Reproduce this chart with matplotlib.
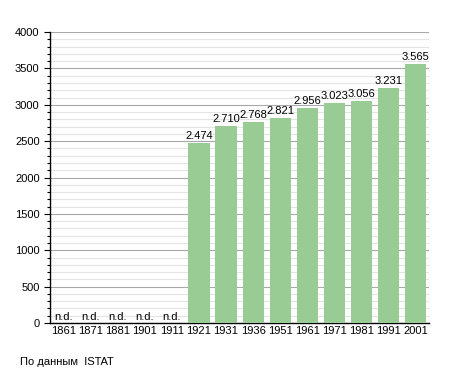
import numpy as np
import matplotlib
matplotlib.use("Agg")
import matplotlib.pyplot as plt
from matplotlib.ticker import MultipleLocator

plt.rcParams['font.family'] = ['Liberation Sans', 'DejaVu Sans']

years = ['1861', '1871', '1881', '1901', '1911', '1921', '1931', '1936',
         '1951', '1961', '1971', '1981', '1991', '2001']
population = [None, None, None, None, None, 2474, 2710, 2768,
              2821, 2956, 3023, 3056, 3231, 3565]
bar_color = '#99cc95'

fig = plt.figure(figsize=(4.55, 3.73), dpi=100)
ax = fig.add_axes([0.110, 0.134, 0.833, 0.780])

x = np.arange(len(years))
vals = [v if v is not None else 0 for v in population]
ax.bar(x, vals, width=0.78, color=bar_color, zorder=3)

# value labels, n.d. where there is no census figure
for xi, v in zip(x, population):
    if v is None:
        ax.text(xi, 15, 'n.d.', ha='center', va='bottom', fontsize=8, zorder=4)
    else:
        label = f"{v / 1000:.3f}"
        ax.text(xi, v + 25, label, ha='center', va='bottom', fontsize=8, zorder=4)

ax.set_xlim(-0.5, len(years) - 0.5)
ax.set_ylim(0, 4000)
ax.set_xticks(x)
ax.set_xticklabels(years, fontsize=8)
ax.yaxis.set_major_locator(MultipleLocator(500))
ax.yaxis.set_minor_locator(MultipleLocator(100))
ax.tick_params(axis='y', labelsize=8, length=4, width=0.8, direction='out')
ax.tick_params(axis='y', which='minor', length=2.5, width=0.8)
ax.tick_params(axis='x', length=0, pad=2)

ax.grid(axis='y', which='major', color='#a8a8a8', linewidth=0.8, zorder=1)
ax.grid(axis='y', which='minor', color='#e4e4e4', linewidth=0.8, zorder=0)

for side in ['top', 'right']:
    ax.spines[side].set_visible(False)
ax.spines['left'].set_linewidth(1.0)
ax.spines['bottom'].set_linewidth(1.0)

fig.text(20 / 455, 1 - 362 / 373, 'По данным  ISTAT', fontsize=8, va='center')

fig.savefig('out.png', dpi=100)
